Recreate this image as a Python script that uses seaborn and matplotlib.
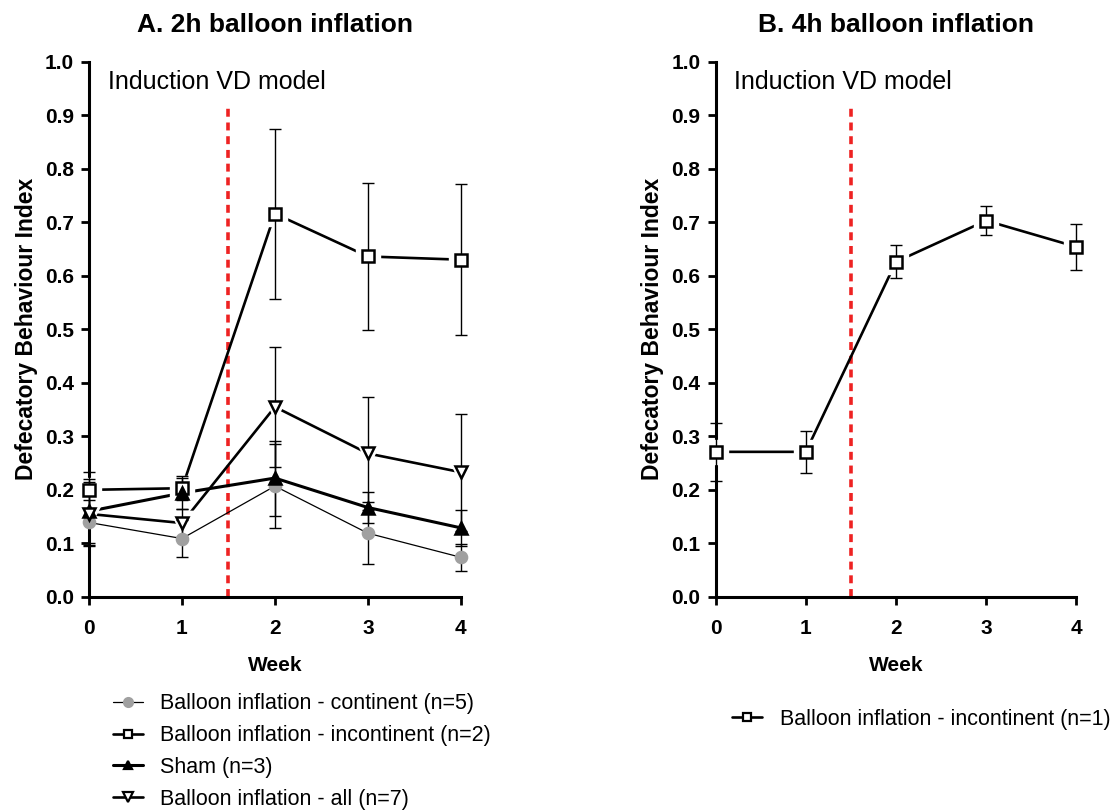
import numpy as np
import pandas as pd
import matplotlib
matplotlib.use("Agg")
import matplotlib.pyplot as plt
from matplotlib.lines import Line2D
import seaborn as sns

# data
weeks = [0, 1, 2, 3, 4]

cont_mean = [0.139, 0.109, 0.207, 0.119, 0.074]
cont_err = [0.042, 0.034, 0.079, 0.058, 0.025]

incont_mean = [0.200, 0.203, 0.716, 0.636, 0.630]
incont_err = [0.034, 0.022, 0.159, 0.137, 0.141]

sham_mean = [0.160, 0.194, 0.222, 0.167, 0.129]
sham_err = [0.060, 0.029, 0.070, 0.029, 0.034]

all_mean = [0.155, 0.138, 0.355, 0.268, 0.233]
all_err = [0.060, 0.027, 0.112, 0.106, 0.109]

b_mean = [0.271, 0.271, 0.626, 0.703, 0.654]
b_err = [0.054, 0.039, 0.031, 0.027, 0.043]

induction_week = 1.5

sns.set_theme(style="ticks")
plt.rcParams['font.family'] = ['Liberation Sans', 'DejaVu Sans']
for k in ['text.color', 'axes.labelcolor', 'xtick.color', 'ytick.color',
          'axes.edgecolor']:
    plt.rcParams[k] = 'black'

fig = plt.figure(figsize=(11.13, 8.11), dpi=100)
axA = fig.add_axes([0.080, 0.264, 0.334, 0.660])
axB = fig.add_axes([0.643, 0.264, 0.324, 0.660])


def draw_series(ax, mean, err, marker, face, lw, ms, gap, label, edge='black'):
    df = pd.DataFrame({'week': weeks, 'value': mean})
    sns.lineplot(data=df, x='week', y='value', ax=ax, color='black',
                 linewidth=lw, zorder=2, legend=False)
    if gap:
        # white halo so the line stops short of the marker
        ax.plot(weeks, mean, linestyle='none', marker=marker, markersize=ms + 9,
                markerfacecolor='white', markeredgecolor='white', zorder=3,
                clip_on=False)
    eb = ax.errorbar(weeks, mean, yerr=err, fmt='none', ecolor='black',
                     elinewidth=1.0, capsize=4, capthick=1.0, zorder=4)
    for art in eb.get_children():
        art.set_clip_on(False)
    ax.plot(weeks, mean, linestyle='none', marker=marker, markersize=ms,
            markerfacecolor=face, markeredgecolor=edge, markeredgewidth=1.8,
            zorder=5, clip_on=False)
    return Line2D([], [], color='black', linewidth=lw, marker=marker,
                  markersize=ms * 0.8, markerfacecolor=face,
                  markeredgecolor=edge, markeredgewidth=1.6, label=label)


h1 = draw_series(axA, cont_mean, cont_err, 'o', '#a0a0a0', 0.9, 8, False,
                 'Balloon inflation - continent (n=5)', edge='#a0a0a0')
h2 = draw_series(axA, incont_mean, incont_err, 's', 'white', 1.9, 8, True,
                 'Balloon inflation - incontinent (n=2)')
h3 = draw_series(axA, sham_mean, sham_err, '^', 'black', 2.2, 8, False,
                 'Sham (n=3)')
h4 = draw_series(axA, all_mean, all_err, 'v', 'white', 1.9, 9, True,
                 'Balloon inflation - all (n=7)')

hb = draw_series(axB, b_mean, b_err, 's', 'white', 1.9, 8, True,
                 'Balloon inflation - incontinent (n=1)')

titles = ['A. 2h balloon inflation', 'B. 4h balloon inflation']
yticks = np.round(np.arange(0, 1.01, 0.1), 1)
for ax, title in zip([axA, axB], titles):
    ax.axvline(induction_week, ymin=0, ymax=0.922, color='#ee2222',
               linestyle=(0, (2.2, 1.6)), linewidth=2.6, zorder=1)
    ax.text(0.2, 0.962, 'Induction VD model', fontsize=18, va='center',
            ha='left')
    ax.set_xlim(0, 4)
    ax.set_ylim(0, 1.0)
    ax.set_xticks(weeks)
    ax.set_yticks(yticks)
    ax.set_yticklabels([f'{v:.1f}' for v in yticks])
    for lab in ax.get_xticklabels() + ax.get_yticklabels():
        lab.set_fontweight('bold')
        lab.set_fontsize(15)
    ax.tick_params(length=6, width=2)
    ax.tick_params(axis='x', pad=10)
    ax.tick_params(axis='y', pad=5)
    for s in ['left', 'bottom']:
        ax.spines[s].set_linewidth(2.2)
    sns.despine(ax=ax)
    ax.set_xlabel('Week', fontsize=15, fontweight='bold', labelpad=13)
    ax.set_ylabel('Defecatory Behaviour Index', fontsize=16.5,
                  fontweight='bold', labelpad=5)
    ax.set_title(title, fontsize=19, fontweight='bold', pad=21)

fig.legend(handles=[h1, h2, h3, h4], loc='upper left',
           bbox_to_anchor=(0.1015, 0.145), frameon=False, fontsize=15.5,
           handlelength=1.4, handletextpad=0.8, labelspacing=0.5,
           borderaxespad=0, borderpad=0)
fig.legend(handles=[hb], loc='upper left', bbox_to_anchor=(0.658, 0.126),
           frameon=False, fontsize=15.5, handlelength=1.4, handletextpad=0.8,
           borderaxespad=0, borderpad=0)

fig.savefig('out.png', dpi=100)
